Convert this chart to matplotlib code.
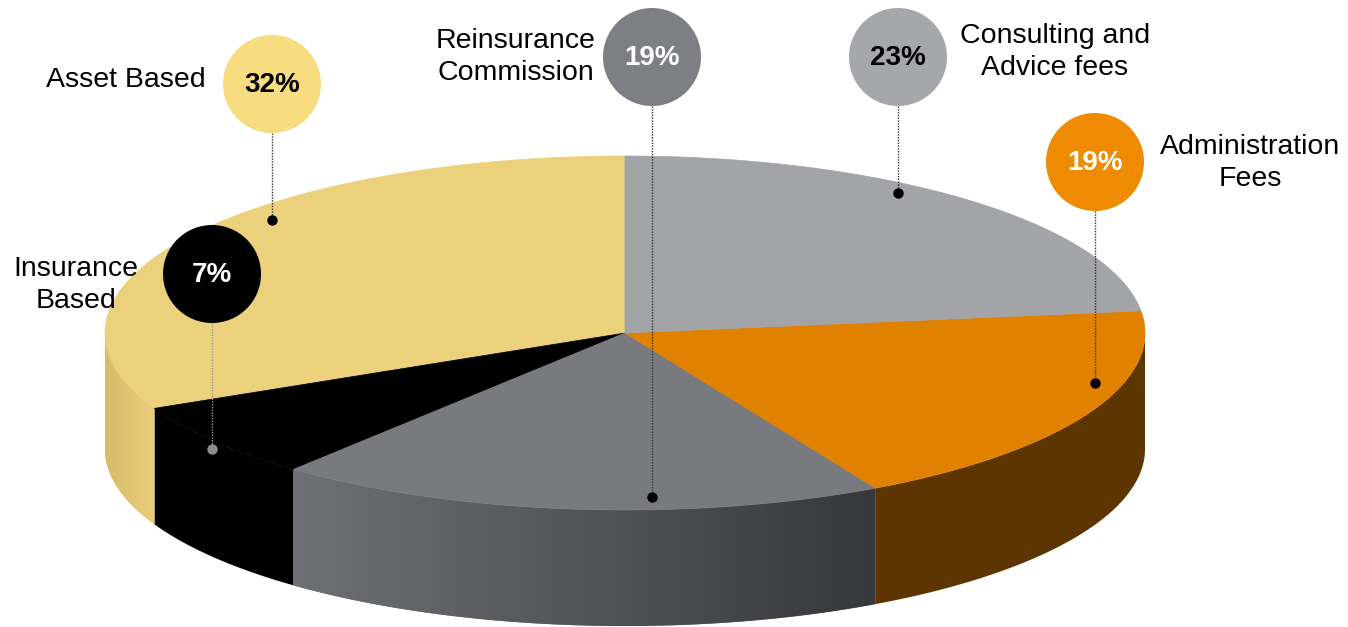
import numpy as np
import matplotlib
matplotlib.use("Agg")
import matplotlib.pyplot as plt
from matplotlib.patches import Polygon, Circle
from matplotlib.colors import to_rgb

# ---------------- data ----------------
categories = ["Asset Based", "Insurance Based", "Reinsurance Commission",
              "Administration Fees", "Consulting and Advice fees"]
label_texts = ["Asset Based", "Insurance\nBased", "Reinsurance\nCommission",
               "Administration\nFees", "Consulting and\nAdvice fees"]
shares = [32, 7, 19, 19, 23]
pct_labels = ["32%", "7%", "19%", "19%", "23%"]

# ---------------- styles ----------------
top_colors = ["#EBD17C", "#000000", "#797A7F", "#E08200", "#A3A4A8"]
side_left = ["#D8BB68", "#000000", "#6E7074", "#5C3500", "#8A8B8F"]
side_right = ["#EACE7A", "#000000", "#37383B", "#5C3500", "#8A8B8F"]
bubble_colors = ["#F8DC80", "#000000", "#7E7F84", "#EE8B00", "#A6A7AB"]
pct_colors = ["black", "white", "white", "white", "black"]
dot_colors = ["black", "#8C8C8C", "black", "black", "black"]
line_colors = ["#333333", "#9A9A9A", "#333333", "#333333", "#333333"]

# ---------------- layout (pixels) ----------------
W, H = 1348, 627
cx, cy, rx, ry, depth = 625, 333, 520, 177, 116
start_angle = 90.0
bubble_xy = [(272, 84), (212, 274), (652, 57), (1095, 162), (898, 57)]
bubble_r = 49
dot_y = [220, 449, 497, 383, 193]
label_xy = [(126, 80), (76, 285), (516, 57), (1250, 163), (1055, 52)]
FONT = "Liberation Sans"

fig = plt.figure(figsize=(W / 100, H / 100), dpi=100)
ax = fig.add_axes([0, 0, 1, 1])
ax.set_xlim(0, W)
ax.set_ylim(H, 0)
ax.axis("off")


def pt(theta_deg, dy=0.0):
    t = np.radians(theta_deg)
    return cx + rx * np.cos(t), cy - ry * np.sin(t) + dy


total = float(sum(shares))
bounds = [start_angle]
for s in shares:
    bounds.append(bounds[-1] + 360.0 * s / total)

# side walls (front half only)
for i in range(len(shares)):
    a = max(bounds[i], 180.0)
    b = min(bounds[i + 1], 360.0)
    if b <= a:
        continue
    th = np.linspace(a, b, 200)
    topx, topy = pt(th)
    botx, boty = pt(th[::-1], depth)
    xs = np.concatenate([topx, botx])
    ys = np.concatenate([topy, boty])
    poly = Polygon(np.column_stack([xs, ys]), closed=True,
                   facecolor=side_left[i], edgecolor="none", zorder=1)
    ax.add_patch(poly)
    if side_left[i] != side_right[i]:
        c0 = np.array(to_rgb(side_left[i]))
        c1 = np.array(to_rgb(side_right[i]))
        f = np.linspace(0, 1, 256)[None, :, None]
        img = c0[None, None, :] * (1 - f) + c1[None, None, :] * f
        img = np.repeat(img, 2, axis=0)
        im = ax.imshow(img, extent=(xs.min(), xs.max(), ys.max(), ys.min()),
                       aspect="auto", interpolation="bilinear", zorder=1.5)
        im.set_clip_path(poly)

# top faces
for i in range(len(shares)):
    th = np.linspace(bounds[i], bounds[i + 1], 300)
    x, y = pt(th)
    xs = np.concatenate([[cx], x])
    ys = np.concatenate([[cy], y])
    ax.add_patch(Polygon(np.column_stack([xs, ys]), closed=True,
                         facecolor=top_colors[i], edgecolor=top_colors[i],
                         linewidth=0.5, zorder=2))

ax.set_xlim(0, W)
ax.set_ylim(H, 0)

# bubbles, leader lines, dots, labels
for i in range(len(shares)):
    bx, by = bubble_xy[i]
    ax.plot([bx, bx], [by + bubble_r, dot_y[i]], color=line_colors[i],
            linewidth=1.0, linestyle=(0, (1, 1)), zorder=3)
    ax.plot([bx], [dot_y[i]], marker="o", markersize=7.5,
            color=dot_colors[i], markeredgewidth=0, zorder=4)
    ax.add_patch(Circle((bx, by), bubble_r, facecolor=bubble_colors[i],
                        edgecolor="none", zorder=5))
    ax.text(bx, by + 1, pct_labels[i], ha="center", va="center",
            fontsize=20, fontweight="bold", color=pct_colors[i],
            family=FONT, zorder=6)
    lx, ly = label_xy[i]
    ax.text(lx, ly, label_texts[i], ha="center", va="center",
            fontsize=20.5, color="black", family=FONT,
            linespacing=1.34, zorder=6)

fig.savefig("out.png", dpi=100)
